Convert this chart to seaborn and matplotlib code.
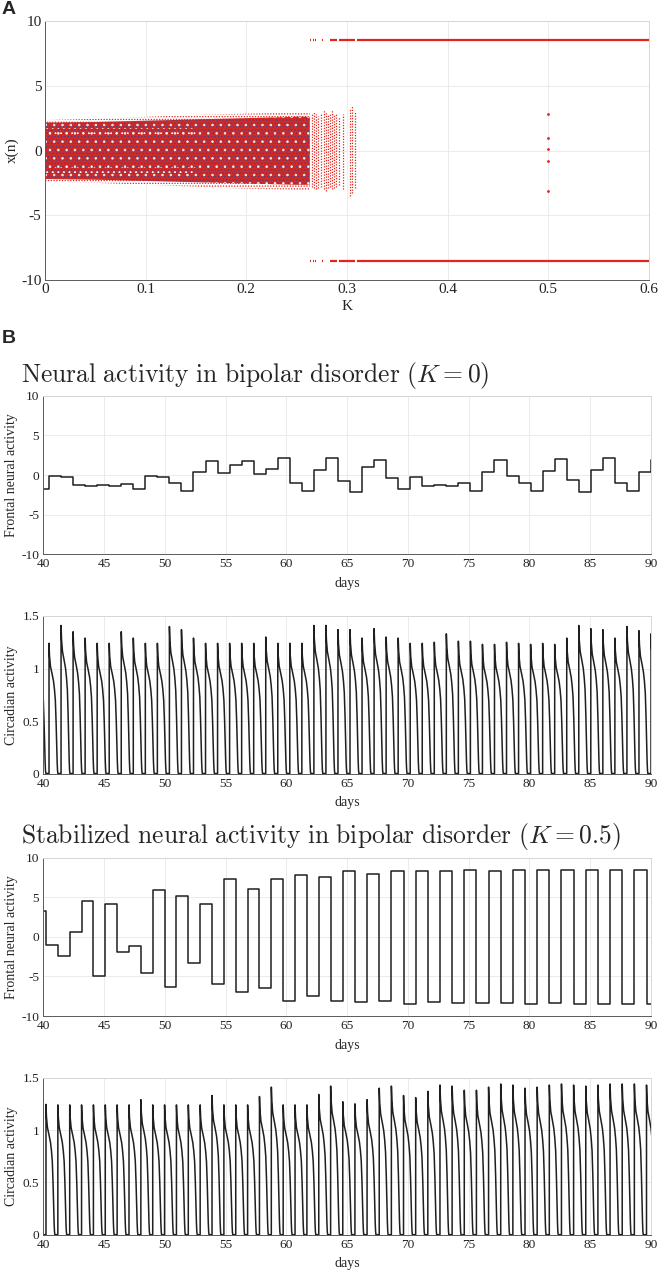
import numpy as np
import matplotlib
matplotlib.use("Agg")
import matplotlib.pyplot as plt
import seaborn as sns

W, H = 658, 1272

# ---------------- Panel A: bifurcation diagram ----------------
# envelope of the chaotic band (K, x)
band_K = [0.0, 0.05, 0.10, 0.15, 0.20, 0.25, 0.263]
band_hi_outer = [2.35, 2.45, 2.60, 2.75, 2.85, 2.95, 2.95]
band_lo_outer = [-2.40, -2.50, -2.65, -2.80, -2.95, -3.05, -3.05]
band_hi_inner = [2.15, 2.20, 2.30, 2.40, 2.50, 2.60, 2.60]
band_lo_inner = [-2.20, -2.25, -2.35, -2.45, -2.55, -2.65, -2.65]
# lighter rows inside the band (K < 0.15)
row_K = [0.0, 0.15]
row_centres = [1.5, -1.5]

# sparse chaotic columns after the band
stripe_K = [0.265, 0.267, 0.269, 0.271, 0.274, 0.277, 0.279, 0.281, 0.283,
            0.285, 0.287, 0.289, 0.292, 0.296, 0.303, 0.305, 0.308]
stripe_lo = [-2.8, -2.9, -3.0, -2.9, -2.8, -3.0, -3.1, -2.9, -2.8,
             -3.0, -2.9, -2.8, -2.7, -3.0, -3.5, -3.3, -2.9]
stripe_hi = [2.9, 3.0, 2.8, 2.7, 2.9, 3.1, 3.0, 2.8, 2.9,
             3.1, 2.8, 2.9, 2.6, 2.8, 3.3, 3.4, 3.0]

# period-2 branches at +/-8.5 (K ranges where they exist)
branch_start = [0.263, 0.266, 0.268, 0.275, 0.283, 0.292, 0.310]
branch_end = [0.2645, 0.267, 0.2688, 0.2765, 0.290, 0.308, 0.600]
branch_level = [8.5, -8.5]

# isolated points at K = 0.5
iso_K = [0.5, 0.5, 0.5, 0.5, 0.5]
iso_x = [2.8, 1.0, 0.1, -0.8, -3.1]

# ---------------- Panel B: time series ----------------
# K = 0 : switching times and values of the frontal neural activity
k0_switch = np.linspace(40.47, 90.0, 51)
k0_frontal = [-1.8, -0.1, -0.25, -1.3, -1.35, -1.3, -1.45, -1.1, -1.8, -0.1,
              -0.25, -1.0, -2.0, 0.4, 1.8, 0.25, 1.2, 1.8, 0.1, 0.7,
              2.2, -1.0, -2.0, 0.6, 2.1, -0.75, -2.2, 1.05, 1.9, -0.4,
              -1.75, -0.3, -1.35, -1.3, -1.45, -1.0, -2.0, 0.4, 1.85, -0.15,
              -1.0, -2.0, 0.45, 2.05, -0.6, -2.1, 0.6, 2.2, -1.0, -2.0,
              0.4, 1.85]
# circadian peaks (first one belongs to the cycle started before day 40)
k0_peaks = [1.24, 1.24, 1.41, 1.35, 1.29, 1.24, 1.24, 1.35, 1.29, 1.24, 1.24,
            1.40, 1.37, 1.29, 1.24, 1.24, 1.24, 1.24, 1.24, 1.30, 1.24,
            1.24, 1.24, 1.41, 1.41, 1.37, 1.37, 1.29, 1.38, 1.30, 1.29,
            1.24, 1.24, 1.25, 1.33, 1.26, 1.26, 1.23, 1.23, 1.25, 1.24,
            1.23, 1.24, 1.23, 1.29, 1.41, 1.38, 1.37, 1.29, 1.40, 1.36,
            1.33]

# K = 0.5
k5_switch = np.r_[np.linspace(40.22, 63.64, 25), np.linspace(64.64, 89.63, 26)]
k5_frontal = [3.24, -1.0, -2.44, 0.67, 4.5, -4.97, 4.2, -1.9, -1.14, -4.55,
              5.9, -6.3, 5.2, -3.33, 4.17, -6.0, 7.37, -7.03, 6.06, -6.4,
              7.28, -8.13, 7.79, -7.41, 7.54, -8.08, 8.34, -8.17, 8.0, -8.13,
              8.34, -8.46, 8.29, -8.29, 8.29, -8.42, 8.46, -8.42, 8.38, -8.42,
              8.46, -8.46, 8.46, -8.42, 8.46, -8.46, 8.46, -8.46, 8.46, -8.46,
              8.5, -8.46]
k5_peaks = [1.24, 1.245, 1.24, 1.24, 1.24, 1.24, 1.24, 1.24, 1.24, 1.29, 1.24,
            1.24, 1.24, 1.24, 1.24, 1.33, 1.24, 1.24, 1.24, 1.32, 1.41,
            1.24, 1.24, 1.24, 1.34, 1.42, 1.27, 1.25, 1.29, 1.40, 1.42,
            1.33, 1.31, 1.37, 1.43, 1.42, 1.38, 1.38, 1.41, 1.44, 1.43,
            1.40, 1.41, 1.43, 1.44, 1.43, 1.42, 1.43, 1.44, 1.44, 1.44,
            1.43]

# shape of one circadian cycle (days after onset, activity for a 1.24 peak)
cyc_phase = [0.0, 0.001, 0.04, 0.12, 0.25, 0.37, 0.45, 0.52, 0.58, 0.63, 0.67, 0.70, 0.73]
cyc_value = [0.0, 1.24, 1.12, 1.02, 0.95, 0.88, 0.80, 0.70, 0.50, 0.28, 0.11, 0.03, 0.0]


def step_series(switch, values):
    xs = np.r_[40.0, switch, 91.0]
    ys = np.r_[values, values[-1]]
    return xs, ys


def circadian_series(switch, peaks):
    onsets = np.r_[switch[0] - (switch[1] - switch[0]), switch]
    ph = np.array(cyc_phase)
    shape = np.array(cyc_value) / cyc_value[1]
    xs, ys = [], []
    for t, a in zip(onsets, peaks):
        xs.append(t + ph)
        ys.append(a * shape)
    return np.concatenate(xs), np.concatenate(ys)


# ---------------- style ----------------
sns.set_theme(style="white")
plt.rcParams["font.family"] = ["Liberation Serif", "DejaVu Serif"]
plt.rcParams["mathtext.fontset"] = "cm"
plt.rcParams["axes.unicode_minus"] = False
plt.rcParams["hatch.linewidth"] = 0.6

fig = plt.figure(figsize=(W / 100, H / 100), dpi=100)


def add_ax(left, top, right, bottom):
    return fig.add_axes([left / W, 1 - bottom / H, (right - left) / W, (bottom - top) / H])


def style_ax(ax, tick_size, pad=3):
    ax.grid(True, color="#e8e8e8", lw=0.6)
    ax.set_axisbelow(True)
    for s in ["left", "bottom"]:
        ax.spines[s].set_color("#5a5a5a")
        ax.spines[s].set_linewidth(0.7)
    for s in ["top", "right"]:
        ax.spines[s].set_color("#d6d6d6")
        ax.spines[s].set_linewidth(0.7)
    ax.tick_params(direction="in", length=3, width=0.6, color="#5a5a5a",
                   labelsize=tick_size, labelcolor="#222222", pad=pad)


# Panel A
axA = add_ax(45, 21, 649, 280)
red = "#e3241b"
purple = "#4f3f86"
axA.fill_between(band_K, band_lo_outer, band_hi_outer, facecolor="white",
                 edgecolor=red, hatch="......", lw=0)
axA.fill_between(band_K, band_lo_inner, band_hi_inner, facecolor="#cf2a26",
                 edgecolor=purple, hatch=".....", lw=0)
axA.fill_between(band_K, band_lo_inner, band_hi_inner, facecolor="none",
                 edgecolor="#f4e8ec", hatch="..", lw=0)
for c in row_centres:
    axA.fill_between(row_K, c - 0.25, c + 0.25, facecolor="none",
                     edgecolor="#ffffff", hatch="...", lw=0)
axA.vlines(stripe_K, stripe_lo, stripe_hi, colors=red, lw=0.9,
           linestyles=(0, (1, 1.2)))
for lev in branch_level:
    axA.hlines([lev] * len(branch_start), branch_start, branch_end, colors=red, lw=1.6)
sns.scatterplot(x=iso_K, y=iso_x, ax=axA, color=red, s=4, linewidth=0)
axA.set_xlim(0, 0.6)
axA.set_ylim(-10, 10)
axA.set_xticks([0, 0.1, 0.2, 0.3, 0.4, 0.5, 0.6])
axA.set_xticklabels(["0", "0.1", "0.2", "0.3", "0.4", "0.5", "0.6"])
axA.set_yticks([-10, -5, 0, 5, 10])
style_ax(axA, 11, pad=2.5)
axA.set_xlabel("K", fontsize=11)
axA.set_ylabel("x(n)", fontsize=11)
axA.xaxis.set_label_coords(0.5, -(307 - 280) / 259)
axA.xaxis.label.set_va("center")
axA.yaxis.set_label_coords((12 - 45) / 604, 0.5)
axA.yaxis.label.set_va("center")

fig.text(2 / W, 1 - 1 / H, "A", family="Liberation Sans", weight="bold",
         fontsize=14, va="top", ha="left")
fig.text(2 / W, 1 - 330 / H, "B", family="Liberation Sans", weight="bold",
         fontsize=14, va="top", ha="left")

fig.text(21 / W, 1 - 382 / H,
         r"$\mathrm{Neural\ activity\ in\ bipolar\ disorder\ }(K=0)$",
         fontsize=18.4, ha="left", va="baseline")
fig.text(21 / W, 1 - 843 / H,
         r"$\mathrm{Stabilized\ neural\ activity\ in\ bipolar\ disorder\ }(K=0.5)$",
         fontsize=18.4, ha="left", va="baseline")

panels = [
    (395.7, 554.3, "frontal", k0_switch, k0_frontal),
    (616.0, 773.5, "circ", k0_switch, k0_peaks),
    (857.7, 1016.0, "frontal", k5_switch, k5_frontal),
    (1077.7, 1234.7, "circ", k5_switch, k5_peaks),
]
for top, bottom, kind, sw, vals in panels:
    ax = add_ax(43.3, top, 651, bottom)
    if kind == "frontal":
        xs, ys = step_series(sw, vals)
        sns.lineplot(x=xs, y=ys, ax=ax, drawstyle="steps-post", sort=False,
                     estimator=None, color="#1f1f1f", lw=1.1)
        ax.set_ylim(-10, 10)
        ax.set_yticks([-10, -5, 0, 5, 10])
        ax.set_ylabel("Frontal neural activity", fontsize=10)
    else:
        xs, ys = circadian_series(sw, vals)
        sns.lineplot(x=xs, y=ys, ax=ax, sort=False, estimator=None,
                     color="#1f1f1f", lw=1.1)
        ax.set_ylim(0, 1.5)
        ax.set_yticks([0, 0.5, 1, 1.5])
        ax.set_yticklabels(["0", "0.5", "1", "1.5"])
        ax.set_ylabel("Circadian activity", fontsize=10)
    ax.set_xlim(40, 90)
    ax.set_xticks(range(40, 91, 5))
    style_ax(ax, 9.6)
    ax.set_xlabel("days", fontsize=10)
    hgt = bottom - top
    ax.xaxis.set_label_coords(0.5, -29 / hgt)
    ax.xaxis.label.set_va("center")
    ax.yaxis.set_label_coords((12 - 43.3) / 607.7, 0.5)
    ax.yaxis.label.set_va("center")

fig.savefig("out.png", dpi=100)
